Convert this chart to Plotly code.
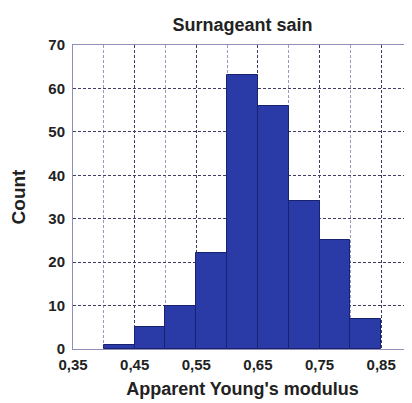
import plotly.graph_objects as go

# histogram data
bin_left = [0.40, 0.45, 0.50, 0.55, 0.60, 0.65, 0.70, 0.75, 0.80]
bin_width = 0.05
counts = [1, 5, 10, 22, 63, 56, 34, 25, 7]

centers = [b + bin_width / 2 for b in bin_left]

grid_col = '#3c3c66'
minor_col = '#9a9ac0'
font_main = 'Liberation Sans, Arial, sans-serif'

fig = go.Figure(go.Bar(
    x=centers,
    y=counts,
    width=bin_width,
    marker=dict(color='#2a3aa6', line=dict(color='#18226e', width=1)),
))

# page body has an 8px margin, so the figure is a bit smaller than the window
fig.update_layout(
    width=404, height=395,
    margin=dict(l=65, r=0, t=37, b=54),
    paper_bgcolor='white',
    plot_bgcolor='white',
    separators=', ',
    showlegend=False,
    bargap=0,
    font=dict(family=font_main, color='#222222'),
    title=dict(text='<b>Surnageant sain</b>', x=0.5, xref='paper', xanchor='center',
               y=0.957, yanchor='middle', font=dict(size=18, color='#222222')),
)

fig.update_xaxes(
    range=[0.35, 0.90], automargin=False,
    tick0=0.35, dtick=0.1, tickformat='.2f',
    showgrid=True, gridcolor=grid_col, griddash='3px,2px', gridwidth=1,
    minor=dict(dtick=0.05, tick0=0.35, showgrid=True, gridcolor=minor_col,
               griddash='3px,2px', gridwidth=1),
    ticks='', tickfont=dict(size=15, color='#222222', family=font_main),
    ticklabelstandoff=2,
    tickprefix='<b>', ticksuffix='</b>',
    title=dict(text="<b>Apparent Young's modulus</b>", font=dict(size=18), standoff=10),
    showline=True, linecolor='#8f8fb8', linewidth=1, mirror=True,
    zeroline=False,
)
fig.update_yaxes(
    range=[0, 70], dtick=10, automargin=False,
    showgrid=True, gridcolor=grid_col, griddash='3px,2px', gridwidth=1,
    ticks='', tickfont=dict(size=15, color='#222222', family=font_main),
    ticklabelstandoff=4,
    tickprefix='<b>', ticksuffix='</b>',
    title=dict(text='<b>Count</b>', font=dict(size=19), standoff=17),
    showline=True, linecolor='#8f8fb8', linewidth=1, mirror=True,
    zeroline=False,
)

fig.write_html("out.html")
